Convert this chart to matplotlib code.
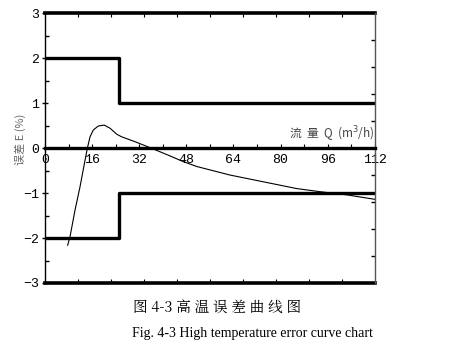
import numpy as np
import matplotlib.pyplot as plt
from matplotlib.ticker import MultipleLocator

# limit lines (step)
limit_x = [0, 25, 25, 112]
upper_y = [2, 2, 1, 1]
lower_y = [-2, -2, -1, -1]

# measured error curve
flow = [7.7, 8.5, 10.2, 11.9, 13.6, 14.4, 15.3, 16.4, 18.1, 20.1, 22.1, 24.3,
        26.0, 30.6, 35.6, 41.9, 46.9, 51.5, 62.8, 74.1, 85.4, 93.3, 102.4, 112]
error = [-2.16, -1.97, -1.38, -0.86, -0.27, 0.0, 0.25, 0.40, 0.49, 0.51, 0.44, 0.31,
         0.25, 0.14, 0.01, -0.16, -0.30, -0.41, -0.60, -0.75, -0.90, -0.97, -1.04, -1.14]

x_ticks = [0, 16, 32, 48, 64, 80, 96, 112]

mono = ['Liberation Mono', 'DejaVu Sans Mono']
cjk = ['Noto Sans CJK SC', 'DejaVu Sans']

fig = plt.figure(figsize=(4.6, 3.58), dpi=100)
ax = fig.add_axes([0.0978, 0.2095, 0.717, 0.754])

ax.plot(limit_x, upper_y, color='black', lw=2.4, solid_capstyle='butt')
ax.plot(limit_x, lower_y, color='black', lw=2.4, solid_capstyle='butt')
ax.plot(flow, error, color='black', lw=0.8)

ax.set_xlim(0, 112)
ax.set_ylim(-3, 3)

# frame: thick top/bottom, thin left/right
ax.axhline(3, color='black', lw=2.6, clip_on=False)
ax.axhline(-3, color='black', lw=2.6, clip_on=False)
ax.spines['top'].set_visible(False)
ax.spines['left'].set_linewidth(1.0)
ax.spines['right'].set_linewidth(1.0)
ax.spines['right'].set_color('#555555')

# x axis sits on the zero line
ax.spines['bottom'].set_position(('data', 0))
ax.spines['bottom'].set_linewidth(2.4)
ax.set_xticks(x_ticks)
ax.xaxis.set_minor_locator(MultipleLocator(8))
ax.tick_params(axis='x', which='both', direction='in', length=3, width=0.8,
               pad=4, labelsize=9.5)
for lab in ax.get_xticklabels():
    lab.set_family(mono)

ax.set_yticks([-3, -2, -1, 0, 1, 2, 3])
ax.set_yticklabels(['\u22123', '\u22122', '\u22121', '0', '1', '2', '3'])
ax.yaxis.set_minor_locator(MultipleLocator(0.5))
ax.tick_params(axis='y', which='major', direction='inout', length=4, width=1.0,
               pad=2, labelsize=9.5)
ax.tick_params(axis='y', which='minor', direction='in', length=3, width=1.0)
for lab in ax.get_yticklabels():
    lab.set_family(mono)

# frame ticks on top, bottom edge and right side
top = ax.secondary_xaxis('top')
top.set_xticks(np.arange(0, 112.1, 11.2)[1:-1])
top.tick_params(direction='in', length=3, width=0.8, labeltop=False)
top.spines['top'].set_visible(False)
bot = ax.secondary_xaxis(0.0)
bot.set_xticks(np.arange(0, 112.1, 11.2)[1:-1])
bot.tick_params(direction='in', length=3, width=0.8, labelbottom=False)
bot.spines['bottom'].set_visible(False)
right = ax.secondary_yaxis('right')
right.set_yticks(np.arange(-3, 3.01, 0.6)[1:-1])
right.tick_params(direction='in', length=3, width=1.0, labelright=False)
right.spines['right'].set_visible(False)

# axis titles
ax.text(112, 0.1, '流  量  Q  (m$^3$/h)', ha='right', va='bottom', fontsize=8.5,
        family=cjk, color='#444444')
fig.text(0.045, 0.61, '误差 E (%)', rotation=90, ha='center', va='center',
         fontsize=8, family=cjk, color='#666666')

# captions
fig.text(0.472, 0.138, '图 4-3 高 温 误 差 曲 线 图', ha='center', va='center',
         fontsize=10.5, family=['Noto Serif CJK SC', 'Noto Sans CJK SC'])
fig.text(0.548, 0.068, 'Fig. 4-3 High temperature error curve chart', ha='center',
         va='center', fontsize=10, family='Liberation Serif')

fig.savefig('out.png', dpi=100)
